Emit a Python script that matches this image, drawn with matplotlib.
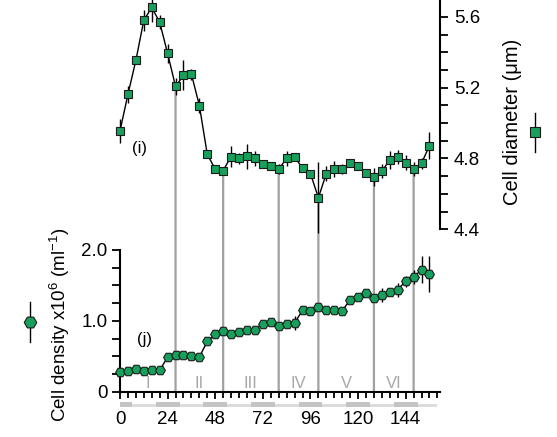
import matplotlib
matplotlib.use("Agg")
import matplotlib.pyplot as plt
from matplotlib.patches import ConnectionPatch, Rectangle
from matplotlib.lines import Line2D
from matplotlib.ticker import MultipleLocator
import matplotlib.transforms as mtransforms

plt.rcParams['font.family'] = ['Liberation Sans', 'DejaVu Sans']
plt.rcParams['mathtext.fontset'] = 'custom'
plt.rcParams['mathtext.rm'] = 'Liberation Sans'
plt.rcParams['mathtext.it'] = 'Liberation Sans:italic'

# ---------------- data ----------------
hours = [0, 4, 8, 12, 16, 20, 24, 28, 32, 36, 40, 44, 48, 52, 56, 60, 64, 68, 72, 76,
         80, 84, 88, 92, 96, 100, 104, 108, 112, 116, 120, 124, 128, 132, 136, 140, 144, 148, 152, 156]

diameter = [4.956, 5.162, 5.354, 5.580, 5.653, 5.570, 5.393, 5.207, 5.269, 5.276,
            5.099, 4.823, 4.740, 4.732, 4.811, 4.800, 4.813, 4.800, 4.768, 4.758,
            4.741, 4.800, 4.809, 4.745, 4.715, 4.578, 4.715, 4.743, 4.740, 4.777,
            4.757, 4.719, 4.694, 4.728, 4.792, 4.809, 4.777, 4.741, 4.773, 4.873]
diameter_err = [0.068, 0.05, 0.02, 0.06, 0.08, 0.04, 0.055, 0.05, 0.085, 0.03,
                0.045, 0.02, 0.02, 0.02, 0.06, 0.03, 0.07, 0.04, 0.02, 0.02,
                0.03, 0.04, 0.02, 0.02, 0.02, 0.20, 0.04, 0.045, 0.03, 0.02,
                0.02, 0.02, 0.05, 0.04, 0.05, 0.04, 0.04, 0.04, 0.03, 0.075]

density = [0.28, 0.29, 0.32, 0.29, 0.30, 0.30, 0.49, 0.52, 0.52, 0.51,
           0.49, 0.71, 0.81, 0.86, 0.81, 0.84, 0.87, 0.87, 0.96, 0.98,
           0.93, 0.95, 0.97, 1.15, 1.14, 1.19, 1.16, 1.15, 1.14, 1.30,
           1.33, 1.39, 1.32, 1.36, 1.41, 1.44, 1.56, 1.62, 1.72, 1.66]
density_err = [0.02, 0.02, 0.02, 0.02, 0.02, 0.02, 0.05, 0.03, 0.02, 0.02,
               0.02, 0.04, 0.05, 0.04, 0.02, 0.02, 0.03, 0.03, 0.02, 0.02,
               0.02, 0.03, 0.10, 0.03, 0.02, 0.03, 0.02, 0.02, 0.02, 0.03,
               0.02, 0.03, 0.03, 0.10, 0.06, 0.10, 0.08, 0.10, 0.19, 0.25]

phase_bounds = [28, 52, 80, 100, 128, 148]
phase_labels = ['I', 'II', 'III', 'IV', 'V', 'VI']
phase_centers = [14, 40, 66, 90, 114, 138]

dark_periods = [(0, 6), (18, 30), (42, 54), (66, 78), (90, 102), (114, 126), (138, 150)]
light_end = 159.6

xticks = [0, 24, 48, 72, 96, 120, 144]

GREEN = '#16a05c'

# ---------------- figure ----------------
fig = plt.figure(figsize=(5.57, 4.37), dpi=100)
W, H = 557.0, 437.0
x0, x1 = 120, 440
ax_bot = fig.add_axes([x0 / W, 1 - 391.7 / H, (x1 - x0) / W, (391.7 - 250) / H])
ax_top = fig.add_axes([x0 / W, 1 - 229.3 / H, (x1 - x0) / W, 229.3 / H])
for ax in (ax_bot, ax_top):
    ax.patch.set_visible(False)
    ax.set_xlim(0, 161.3)

# bottom: density
ax_bot.set_ylim(0, 2.0)
ax_bot.errorbar(hours, density, yerr=density_err, fmt='-', color='black', lw=1.0,
                ecolor='black', elinewidth=1.0, capsize=0, marker='H', ms=7,
                mfc=GREEN, mec='#1a1a1a', mew=0.8, clip_on=False, zorder=5)
for s in ('top', 'right'):
    ax_bot.spines[s].set_visible(False)
ax_bot.spines['left'].set_linewidth(1.5)
ax_bot.spines['bottom'].set_linewidth(1.5)
ax_bot.set_xticks(xticks)
ax_bot.set_xticklabels([str(v) for v in xticks])
ax_bot.xaxis.set_minor_locator(MultipleLocator(4))
ax_bot.set_yticks([0, 1.0, 2.0])
ax_bot.set_yticklabels(['0', '1.0', '2.0'])
ax_bot.yaxis.set_minor_locator(MultipleLocator(0.25))
ax_bot.tick_params(axis='x', which='major', direction='out', length=5, width=1.3,
                   labelsize=13.5, pad=9)
ax_bot.tick_params(axis='x', which='minor', direction='out', length=4, width=1.3)
ax_bot.tick_params(axis='y', which='both', direction='out', length=6, width=1.3,
                   labelsize=13.5, pad=3)

for c, lab in zip(phase_centers, phase_labels):
    ax_bot.text(c, 0.12, lab, ha='center', va='center', color='#a8a8a8', fontsize=12)
ax_bot.text(12.6, 0.73, '(j)', ha='center', va='center', fontsize=12)

# light/dark strip under the axis
trans = mtransforms.blended_transform_factory(ax_bot.transData, ax_bot.transAxes)
ax_bot.add_patch(Rectangle((0, -0.106), light_end, 0.018, transform=trans,
                           color='#dcdcdc', clip_on=False, lw=0))
for a, b in dark_periods:
    ax_bot.add_patch(Rectangle((a, -0.106), b - a, 0.036, transform=trans,
                               color='#c4c4c4', clip_on=False, lw=0))

# top: diameter
ax_top.set_ylim(4.4, 5.695)
ax_top.errorbar(hours, diameter, yerr=diameter_err, fmt='-', color='black', lw=1.0,
                ecolor='black', elinewidth=1.0, capsize=0, marker='s', ms=5.5,
                mfc=GREEN, mec='#1a1a1a', mew=0.8, clip_on=False, zorder=5)
for s in ('top', 'left', 'bottom'):
    ax_top.spines[s].set_visible(False)
ax_top.spines['right'].set_linewidth(1.5)
ax_top.set_xticks([])
ax_top.yaxis.tick_right()
ax_top.set_yticks([4.4, 4.8, 5.2, 5.6])
ax_top.set_yticklabels(['4.4', '4.8', '5.2', '5.6'])
ax_top.yaxis.set_minor_locator(MultipleLocator(0.1))
ax_top.tick_params(axis='y', which='both', direction='out', length=6, width=1.3,
                   labelsize=13.5, pad=4)
ax_top.text(10, 4.858, '(i)', ha='center', va='center', fontsize=12)

# vertical phase lines connecting the two panels
for t in phase_bounds:
    d = diameter[hours.index(t)]
    con = ConnectionPatch(xyA=(t, 0), coordsA=ax_bot.transData,
                          xyB=(t, d), coordsB=ax_top.transData,
                          color='#a0a0a0', lw=1.6, zorder=-1)
    fig.add_artist(con)

# axis labels
fig.text(513 / W, 1 - 122 / H, 'Cell diameter (μm)', rotation=90, ha='center',
         va='center', fontsize=14.5)
fig.text(60 / W, 1 - 325 / H, 'Cell density x10$^{6}$ (ml$^{-1}$)', rotation=90,
         ha='center', va='center', fontsize=13.5)

# legend glyphs next to labels
fig.add_artist(Line2D([535 / W, 535 / W], [1 - 113 / H, 1 - 152 / H],
                      transform=fig.transFigure, color='black', lw=1.0))
fig.add_artist(Line2D([535 / W], [1 - 132 / H], transform=fig.transFigure,
                      marker='s', ms=6.5, mfc=GREEN, mec='#1a1a1a', mew=0.8, ls='none'))
fig.add_artist(Line2D([30 / W, 30 / W], [1 - 302 / H, 1 - 342 / H],
                      transform=fig.transFigure, color='black', lw=1.0))
fig.add_artist(Line2D([30 / W], [1 - 322 / H], transform=fig.transFigure,
                      marker='H', ms=9, mfc=GREEN, mec='#1a1a1a', mew=0.8, ls='none'))

fig.savefig('out.png', dpi=100)
